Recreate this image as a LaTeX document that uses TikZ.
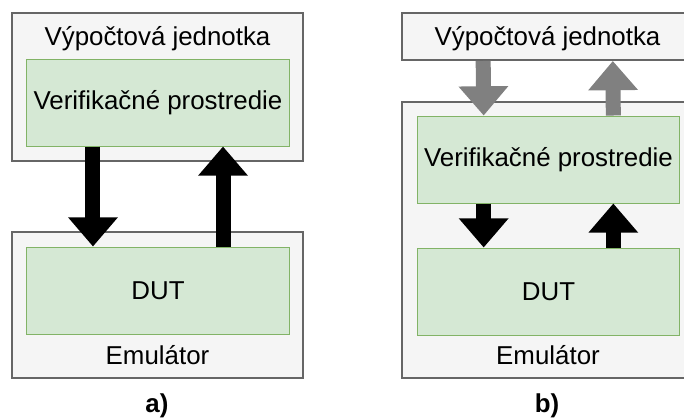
\documentclass[tikz,border=0pt]{standalone}
\usepackage{fontspec}
\setmainfont{Liberation Sans}
\usepackage{xcolor}
\usetikzlibrary{arrows.meta, positioning}

\definecolor{unitfill}{HTML}{F5F5F5}
\definecolor{unitline}{HTML}{666666}
\definecolor{envfill}{HTML}{D5E8D4}
\definecolor{envline}{HTML}{82B366}

\begin{document}
\begin{tikzpicture}[
    x=0.025cm, y=-0.025cm,
    unit/.style={draw=unitline, fill=unitfill, line width=1.4pt, minimum width=7.3cm, inner sep=0pt},
    env/.style={draw=envline, fill=envfill, line width=0.7pt, minimum width=6.55cm, minimum height=2.175cm, inner sep=0pt, font=\fontsize{18.4}{22}\selectfont},
    lbl/.style={font=\fontsize{18.4}{22}\selectfont, inner sep=0pt, anchor=base},
    sublbl/.style={font=\fontsize{18.4}{22}\selectfont\bfseries, inner sep=0pt, anchor=base},
    blk/.style={line width=0.375cm, -{Triangle[length=0.73cm, width=1.2cm]}},
    gry/.style={blk, draw=gray},
]
\useasboundingbox (0,0) rectangle (684,417);
\clip (0,0) rectangle (684,417);

% a) verification environment on the computer
\node[unit, minimum width=7.275cm, minimum height=3.7cm] (cpuA) at (157.5,87) {};
\node[lbl] (cpuAlbl) at (157.5,45) {Výpočtová jednotka};
\node[env] (envA) at (158,102.5) {Verifikačné prostredie};
\node[unit, minimum width=7.275cm, minimum height=3.65cm] (emuA) at (157.5,305) {};
\node[env] (dutA) at (158,290.5) {DUT};
\node[lbl] (emuAlbl) at (157.5,364) {Emulátor};
\node[sublbl] (subA) at (157,412) {a)};

\draw[blk] ([xshift=-1.625cm]envA.south) -- ([xshift=-1.625cm]dutA.north);
\draw[blk] ([xshift=1.625cm]dutA.north) -- ([xshift=1.625cm]envA.south);

% b) verification environment inside the emulator
\node[unit, minimum height=1.175cm] (cpuB) at (548,36.5) {};
\node[lbl] (cpuBlbl) at (547.5,45) {Výpočtová jednotka};
\node[unit, minimum height=6.9cm] (emuB) at (548,240) {};
\node[env] (envB) at (548.5,159.5) {Verifikačné prostredie};
\node[env, below=1.1cm of envB] (dutB) {DUT};
\node[lbl] (emuBlbl) at (548,364) {Emulátor};
\node[sublbl] (subB) at (547,412) {b)};

\draw[gry] ([xshift=-1.62cm]cpuB.south) -- ([xshift=-1.62cm]envB.north);
\draw[gry] ([xshift=1.62cm]envB.north) -- ([xshift=1.62cm]cpuB.south);
\draw[blk] ([xshift=-1.62cm]envB.south) -- ([xshift=-1.62cm]dutB.north);
\draw[blk] ([xshift=1.62cm]dutB.north) -- ([xshift=1.62cm]envB.south);

\end{tikzpicture}
\end{document}
